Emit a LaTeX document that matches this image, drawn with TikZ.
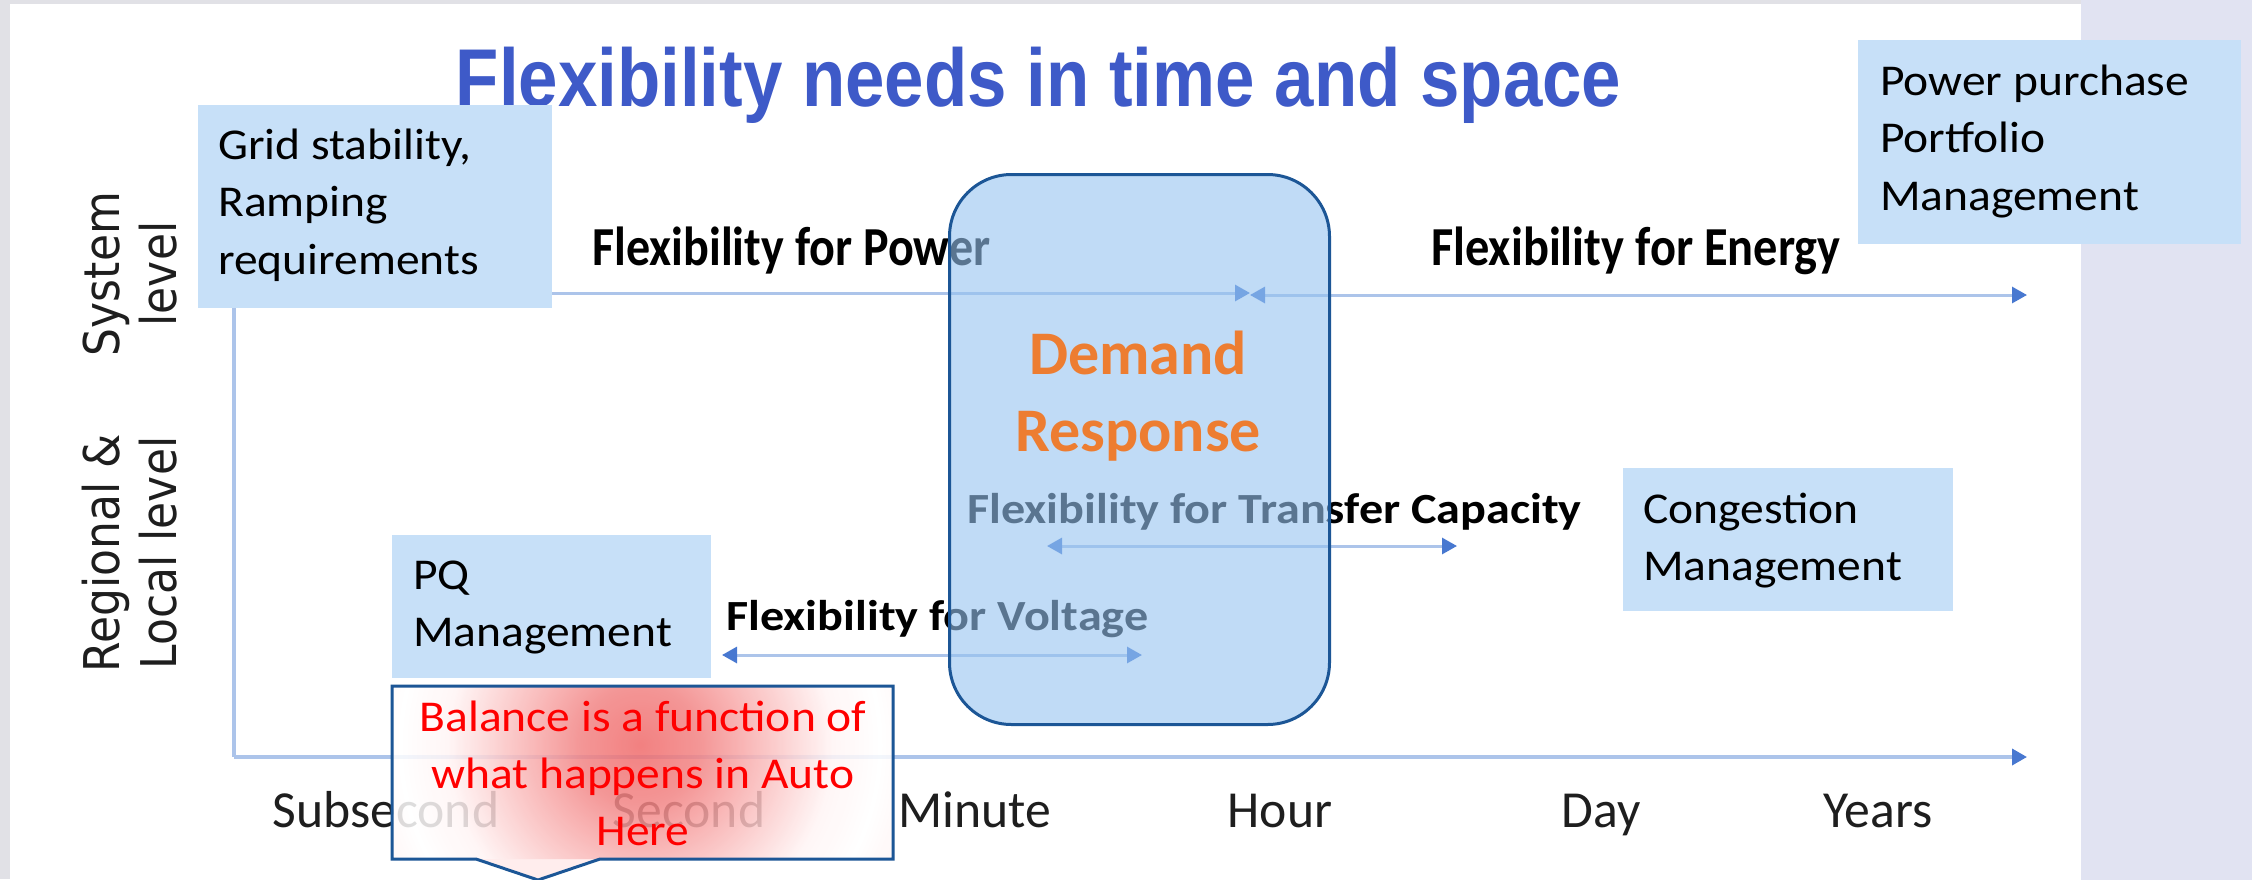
\documentclass[tikz,border=0pt]{standalone}
\usepackage{fontspec}
\usepackage{graphicx}
\setmainfont{Carlito}
\newfontfamily\calw[FakeStretch=1.08]{Carlito}
\newfontfamily\arialf{Liberation Sans}
\newfontfamily\dejav{DejaVu Sans}
\usetikzlibrary{arrows.meta}
\definecolor{bggray}{RGB}{225,225,230}
\definecolor{bglav}{RGB}{225,227,242}
\definecolor{bgcyan}{RGB}{220,240,250}
\definecolor{boxblue}{RGB}{199,224,248}
\definecolor{drfill}{RGB}{150,195,240}
\definecolor{drborder}{RGB}{28,86,150}
\definecolor{droange}{RGB}{237,125,49}
\definecolor{titleblue}{RGB}{62,90,200}
\definecolor{lineblue}{RGB}{172,196,234}
\definecolor{arrowblue}{RGB}{72,120,208}
\definecolor{labelgray}{RGB}{30,30,30}
\definecolor{tippink}{RGB}{255,236,236}
\pgfdeclareradialshading{callsh}{\pgfpoint{0bp}{0bp}}{rgb(0bp)=(0.94,0.42,0.42); rgb(5bp)=(0.95,0.52,0.52); rgb(10bp)=(0.98,0.72,0.72); rgb(16bp)=(1,0.96,0.96); rgb(20bp)=(1,1,1); rgb(30bp)=(1,0.88,0.88); rgb(50bp)=(1,0.84,0.84)}
\begin{document}
\begin{tikzpicture}[x=1pt,y=-1pt,
  >={Triangle[length=15pt,width=16pt,color=arrowblue]},
  box/.style={fill=boxblue, draw=none, inner sep=0, anchor=north west},
  boxtext/.style={anchor=base west, inner sep=0, font=\fontsize{44}{57.5}\selectfont\calw},
  flexlbl/.style={anchor=base west, inner sep=0, text=black},
  axislbl/.style={anchor=base, inner sep=0, text=labelgray, font=\fontsize{52}{60}\selectfont\calw},
  levellbl/.style={rotate=90, inner sep=0, text=labelgray, font=\fontsize{44}{51}\selectfont\dejav},
  flow/.style={draw=lineblue, line width=3pt},
  axis/.style={draw=lineblue, line width=3.5pt}]
\useasboundingbox (0,0) rectangle (2252,879);
% background
\fill[bggray] (0,0) rectangle (2252,879);
\shade[top color=bglav, middle color=bgcyan, bottom color=bglav] (2081,0) rectangle (2252,879);
\fill[white] (10,4) rectangle (2081,879);

% title
\node[anchor=base, inner sep=0, text=titleblue, font=\fontsize{82}{90}\selectfont\arialf\bfseries] (title) at (1038.5,106) {\scalebox{0.864}[1]{Flexibility needs in time and space}};

% coordinates
\coordinate (axtop) at (234,300);
\coordinate (orig) at (234,757);
\coordinate (axend) at (2027,757);
\coordinate (pw0) at (234,293);
\coordinate (pw1) at (1250,293);
\coordinate (en0) at (1250,295);
\coordinate (en1) at (2027,295);
\coordinate (tr0) at (1047,546);
\coordinate (tr1) at (1457,546);
\coordinate (vo0) at (722,655);
\coordinate (vo1) at (1142,655);

% axes
\draw[axis] (axtop) -- (orig);
\draw[axis,->] (orig) -- (axend);

% flexibility arrows
\draw[flow,->] (pw0) -- (pw1);
\draw[flow,<->] (en0) -- (en1);
\draw[flow,<->] (tr0) -- (tr1);
\draw[flow,<->] (vo0) -- (vo1);

% flexibility labels
\node[flexlbl, font=\fontsize{55}{60}\selectfont\bfseries] (fpower) at (592,265) {\scalebox{0.874}[1]{Flexibility for Power}};
\node[flexlbl, font=\fontsize{55}{60}\selectfont\bfseries] (fenergy) at (1431,265) {\scalebox{0.88}[1]{Flexibility for Energy}};
\node[flexlbl, font=\fontsize{43}{50}\selectfont\bfseries] (ftransfer) at (967,523) {\scalebox{1.12}[1]{Flexibility for Transfer Capacity}};
\node[flexlbl, font=\fontsize{43}{50}\selectfont\bfseries] (fvoltage) at (726,630) {\scalebox{1.12}[1]{Flexibility for Voltage}};

% level labels
\node[levellbl] (syslbl) at (137,274) {\scalebox{1}[1.12]{\begin{tabular}{@{}c@{}}System\\level\end{tabular}}};
\node[levellbl] (reglbl) at (137,553) {\scalebox{1}[1.12]{\begin{tabular}{@{}c@{}}Regional \&\\Local level\end{tabular}}};

% time labels
\node[axislbl] (tsub) at (386,827) {\scalebox{0.92}[1]{Subsecond}};
\node[axislbl] (tsec) at (689,827) {\scalebox{0.92}[1]{Second}};
\node[axislbl] (tmin) at (975,827) {\scalebox{0.92}[1]{Minute}};
\node[axislbl] (thour) at (1280,827) {\scalebox{0.92}[1]{Hour}};
\node[axislbl] (tday) at (1601,827) {\scalebox{0.92}[1]{Day}};
\node[axislbl] (tyears) at (1878,827) {\scalebox{0.92}[1]{Years}};

% blue boxes
\node[box, minimum width=354pt, minimum height=203pt] (gridbox) at (198,105) {};
\node[boxtext] (gridtxt) at (218,159) {\begin{tabular}[t]{@{}l@{}}Grid stability,\\Ramping\\requirements\end{tabular}};
\node[box, minimum width=383pt, minimum height=204pt] (ppbox) at (1858,40) {};
\node[boxtext] (pptxt) at (1880,95) {\begin{tabular}[t]{@{}l@{}}Power purchase\\Portfolio\\Management\end{tabular}};
\node[box, minimum width=330pt, minimum height=143pt] (congbox) at (1623,468) {};
\node[boxtext] (congtxt) at (1643,523) {\begin{tabular}[t]{@{}l@{}}Congestion\\Management\end{tabular}};
\node[box, minimum width=319pt, minimum height=143pt] (pqbox) at (392,535) {};
\node[boxtext] (pqtxt) at (413,589) {\begin{tabular}[t]{@{}l@{}}PQ\\Management\end{tabular}};

% demand response
\node[anchor=north west, inner sep=0, minimum width=380pt, minimum height=550pt, rounded corners=62pt, fill=drfill, fill opacity=0.6, draw=drborder, line width=3pt] (drbox) at (948,173) {};
\node[anchor=base, inner sep=0, text=droange, font=\fontsize{62}{77}\selectfont\bfseries] (drtxt) at (1138,374) {\begin{tabular}[t]{@{}c@{}}Demand\\Response\end{tabular}};

% callout
\coordinate (c1) at (392,686);
\coordinate (c2) at (893,686);
\coordinate (c3) at (893,859);
\coordinate (c4) at (600,859);
\coordinate (ctip) at (538,880);
\coordinate (c5) at (476,859);
\coordinate (c6) at (392,859);
\coordinate (glow) at (640,745);
\begin{scope}
  \clip (c1) rectangle (c3);
  \shade[shading=callsh, fill opacity=0.85] (glow) circle (300pt);
\end{scope}
\fill[tippink, fill opacity=0.9] (c5) -- (ctip) -- (c4) -- cycle;
\draw[drborder, line width=3pt, line join=miter] (c1) -- (c2) -- (c3) -- (c4) -- (ctip) -- (c5) -- (c6) -- cycle;
\node[anchor=base, inner sep=0, text=red, font=\fontsize{44}{57}\selectfont\calw] (calltxt) at (643,731) {\begin{tabular}[t]{@{}c@{}}Balance is a function of\\what happens in Auto\\Here\end{tabular}};
\end{tikzpicture}
\end{document}
